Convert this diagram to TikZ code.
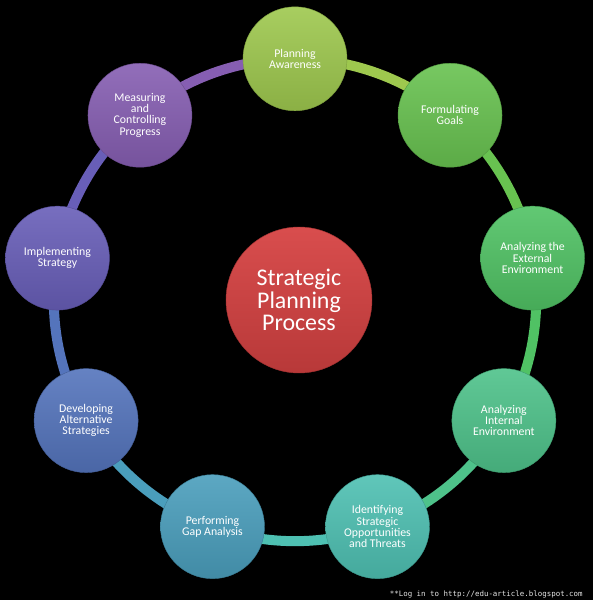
\documentclass[tikz,border=0pt]{standalone}
\usepackage{fontspec}
\setmainfont{Carlito}
\newfontfamily\footfont{DejaVu Sans Mono}
\usepackage{tikz}
\usepackage{xcolor}
\usetikzlibrary{
    positioning,
    backgrounds
}
\pgfdeclarelayer{backdrop}
\pgfsetlayers{backdrop,background,main}
\tikzset{
  stage/.style  = {circle, minimum size=2.6cm, inner sep=0pt, align=center,
                   text=white, font=\fontsize{8.4}{8}\selectfont,
                   top color=#1!90!white, bottom color=#1!88!black,
                   draw=#1!80!black, line width=0.3pt},
  hub/.style    = {circle, minimum size=3.65cm, inner sep=0pt, align=center,
                   text=white, font=\fontsize{17}{16}\selectfont,
                   top color=cHub!94!white, bottom color=cHub!86!black,
                   draw=cHub!75!black, line width=0.3pt},
  ring/.style   = {line width=0.25cm, draw=#1}
}
\definecolor{cHub}{RGB}{214,66,66}
\definecolor{cPA}{RGB}{158,200,78}
\definecolor{cFG}{RGB}{104,194,80}
\definecolor{cEE}{RGB}{80,194,100}
\definecolor{cIE}{RGB}{78,194,138}
\definecolor{cOT}{RGB}{78,192,178}
\definecolor{cGA}{RGB}{74,158,188}
\definecolor{cAS}{RGB}{84,116,188}
\definecolor{cIS}{RGB}{104,94,184}
\definecolor{cMC}{RGB}{134,94,178}

\begin{document}
\begin{tikzpicture}
  \begin{pgfonlayer}{backdrop}
    \fill[black] (-7.375,-7.5) rectangle (7.45,7.5);
  \end{pgfonlayer}
  \useasboundingbox (-7.375,-7.5) rectangle (7.45,7.5);

  \node[hub] (spp) at (0.1,0) {Strategic\\Planning\\Process};

  % stages round the ring
  \node[stage=cPA] (pa) at (90:6.03)  {Planning\\Awareness};
  \node[stage=cFG] (fg) at (50:6.03)  {Formulating\\Goals};
  \node[stage=cEE] (ee) at (10:6.03)  {Analyzing the\\External\\Environment};
  \node[stage=cIE] (ie) at (-30:6.03) {Analyzing\\Internal\\Environment};
  \node[stage=cOT] (ot) at (-70:6.03) {Identifying\\Strategic\\Opportunities\\and Threats};
  \node[stage=cGA] (ga) at (-110:6.03) {Performing\\Gap Analysis};
  \node[stage=cAS] (as) at (-150:6.03) {Developing\\Alternative\\Strategies};
  \node[stage=cIS] (is) at (170:6.03) {Implementing\\Strategy};
  \node[stage=cMC] (mc) at (130:6.03) {Measuring\\and\\Controlling\\Progress};

  \begin{scope}[on background layer]
    \draw[ring=cPA] (pa.center) to[bend left=20, looseness=0.88] (fg.center);
    \draw[ring=cFG] (fg.center) to[bend left=20, looseness=0.88] (ee.center);
    \draw[ring=cEE] (ee.center) to[bend left=20, looseness=0.88] (ie.center);
    \draw[ring=cIE] (ie.center) to[bend left=20, looseness=0.88] (ot.center);
    \draw[ring=cOT] (ot.center) to[bend left=20, looseness=0.88] (ga.center);
    \draw[ring=cGA] (ga.center) to[bend left=20, looseness=0.88] (as.center);
    \draw[ring=cAS] (as.center) to[bend left=20, looseness=0.88] (is.center);
    \draw[ring=cIS] (is.center) to[bend left=20, looseness=0.88] (mc.center);
    \draw[ring=cMC] (mc.center) to[bend left=20, looseness=0.88] (pa.center);
  \end{scope}

  \node[anchor=east, text=gray!20!white, inner sep=0pt,
        font=\footfont\fontsize{5.3}{6}\selectfont] (foot) at (7.2,-7.35)
        {**Log in to http://edu-article.blogspot.com};
\end{tikzpicture}
\end{document}
